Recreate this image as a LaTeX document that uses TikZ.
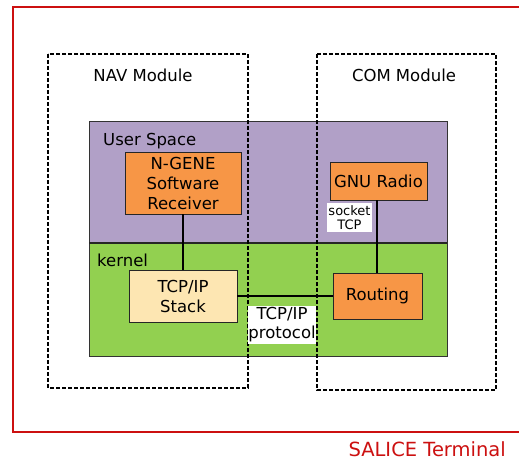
\documentclass[tikz,border=0pt]{standalone}
\usepackage{fontspec}
\setmainfont{DejaVu Sans}
\definecolor{frame}{HTML}{CC1010}
\definecolor{userspace}{HTML}{B1A0C7}
\definecolor{kernelgreen}{HTML}{92D050}
\definecolor{appbox}{HTML}{F79646}
\definecolor{stackbox}{HTML}{FDE6B2}
\begin{document}
\begin{tikzpicture}[x=1pt,y=-1pt,
  layer/.style={draw=black!80,line width=0.8pt},
  block/.style={draw=black!85,line width=0.8pt,align=center,inner sep=1pt,font=\fontsize{16.5}{20}\selectfont},
  module/.style={draw=black,line width=1.4pt,dash pattern=on 4pt off 2pt},
  link/.style={draw=black,line width=2pt},
  tag/.style={fill=white,inner sep=1pt,align=center},
  title/.style={font=\fontsize{16.5}{20}\selectfont}]
\useasboundingbox (0,0) rectangle (519,460);
% outer terminal frame (open to the right)
\draw[frame,line width=1.2pt] (525,7) -- (13,7) -- (13,432) -- (525,432);
\node[font=\fontsize{19.5}{22}\selectfont,text=frame,anchor=base east,inner sep=0pt] (salice) at (506,456) {SALICE Terminal};
% user space and kernel layers
\fill[userspace] (89,121) rectangle (447,243);
\fill[kernelgreen] (89,243) rectangle (447,356);
\draw[layer] (89,121) rectangle (447,356);
\draw[black!85,line width=2pt] (89,243) -- (447,243);
\node[title,anchor=base west,inner sep=0pt] (us) at (103,145) {User Space};
\node[title,anchor=base west,inner sep=0pt] (kern) at (97,266) {kernel};
% blocks
\node[block,fill=appbox,minimum width=116pt,minimum height=62pt] (ngene) at (183,183) {N-GENE\\Software\\Receiver};
\node[block,fill=appbox,minimum width=97pt,minimum height=38pt] (gnu) at (378.5,181) {GNU Radio};
\node[block,fill=stackbox,minimum width=108pt,minimum height=52pt] (stack) at (183,296) {TCP/IP\\Stack};
\node[block,fill=appbox,minimum width=89pt,minimum height=46pt] (routing) at (377.5,296) {Routing};
% connections
\draw[link] (ngene.south) -- (stack.north -| ngene.south);
\draw[link] (gnu.south -| 377,0) -- (routing.north -| 377,0);
\draw[link] (stack.east) -- (routing.west);
% module outlines
\draw[module] (48,54) rectangle (248,388);
\draw[module] (317,54) rectangle (496,390);
\node[title] (nav) at (143,75) {NAV Module};
\node[title] (com) at (404,75) {COM Module};
% link labels
\node[tag,font=\fontsize{13}{14}\selectfont,minimum width=45pt,minimum height=29pt,inner sep=0pt] (sock) at (349.5,217.5) {socket\\TCP};
\node[tag,font=\fontsize{16.5}{19}\selectfont,minimum width=68pt,minimum height=38pt,inner sep=0pt] (proto) at (282,325) {TCP/IP\\protocol};
\end{tikzpicture}
\end{document}
